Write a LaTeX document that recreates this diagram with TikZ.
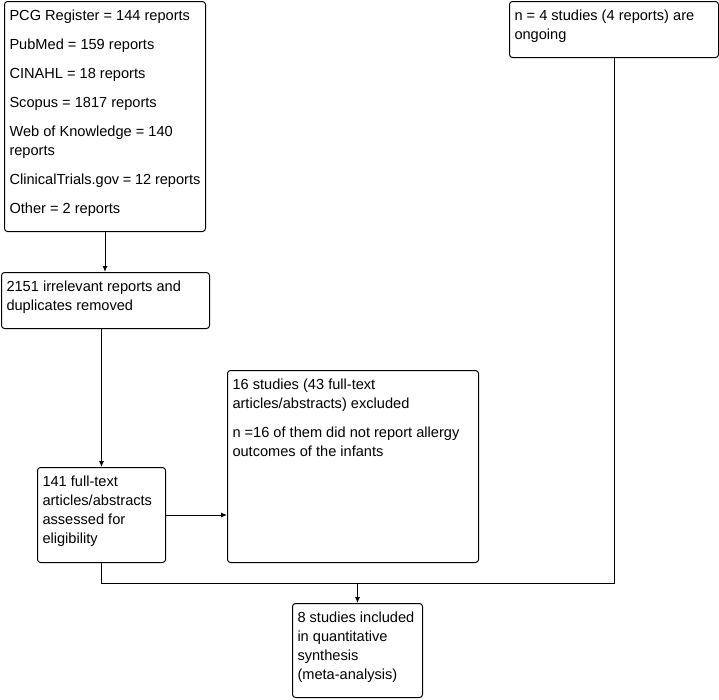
\documentclass[tikz,border=0pt]{standalone}
\usepackage{fontspec}
\setmainfont{Liberation Sans}
\usetikzlibrary{arrows.meta}
% texto alinhado em cima, numa caixa de altura fixa
\newcommand{\caixatxt}[3]{\parbox[t][#2][t]{#1}{\raggedright\setlength{\parskip}{10pt}\strut #3}}
\begin{document}
\begin{tikzpicture}[x=1pt, y=-1pt,
    caixa/.style={draw, line width=1pt, rounded corners=3pt, inner xsep=5pt,
      inner ysep=6pt, anchor=north west, font=\fontsize{14.6}{19}\selectfont},
    seta/.style={line width=1pt, -{Latex[length=6pt,width=5pt]}}]
  \useasboundingbox (0,0) rectangle (719,699);
  % caixas
  \node[caixa] (src) at (4,1) {\caixatxt{191pt}{218pt}{PCG Register = 144 reports\par
    PubMed = 159 reports\par CINAHL = 18 reports\par Scopus = 1817 reports\par
    Web of Knowledge = 140\\ reports\par ClinicalTrials.gov = 12 reports\par
    Other = 2 reports}};
  \node[caixa] (ongoing) at (509,1) {\caixatxt{199pt}{44pt}{n = 4 studies (4 reports) are\\ ongoing}};
  \node[caixa] (removed) at (1,272) {\caixatxt{198pt}{44pt}{2151 irrelevant reports and\\ duplicates removed}};
  \node[caixa] (assessed) at (37,467) {\caixatxt{118pt}{83pt}{141 full-text\\ articles/abstracts\\ assessed for\\ eligibility}};
  \node[caixa] (excluded) at (227,370) {\caixatxt{241pt}{180pt}{16 studies (43 full-text\\
    articles/abstracts) excluded\par n =16 of them did not report allergy\\ outcomes of the infants}};
  \node[caixa] (included) at (292,603) {\caixatxt{120pt}{82pt}{8 studies included\\ in quantitative\\ synthesis\\ (meta-analysis)}};
  % ligacoes
  \coordinate (junta) at (included.north |- 0,583);
  \draw[seta] (src.south) -- (src.south |- removed.north);
  \draw[seta] (assessed.north |- removed.south) -- (assessed.north);
  \draw[seta] (assessed.east) -- (assessed.east -| excluded.west);
  \draw[line width=1pt] (assessed.south) |- (junta -| ongoing.south) -- (ongoing.south);
  \draw[seta] (junta) -- (included.north);
\end{tikzpicture}
\end{document}
